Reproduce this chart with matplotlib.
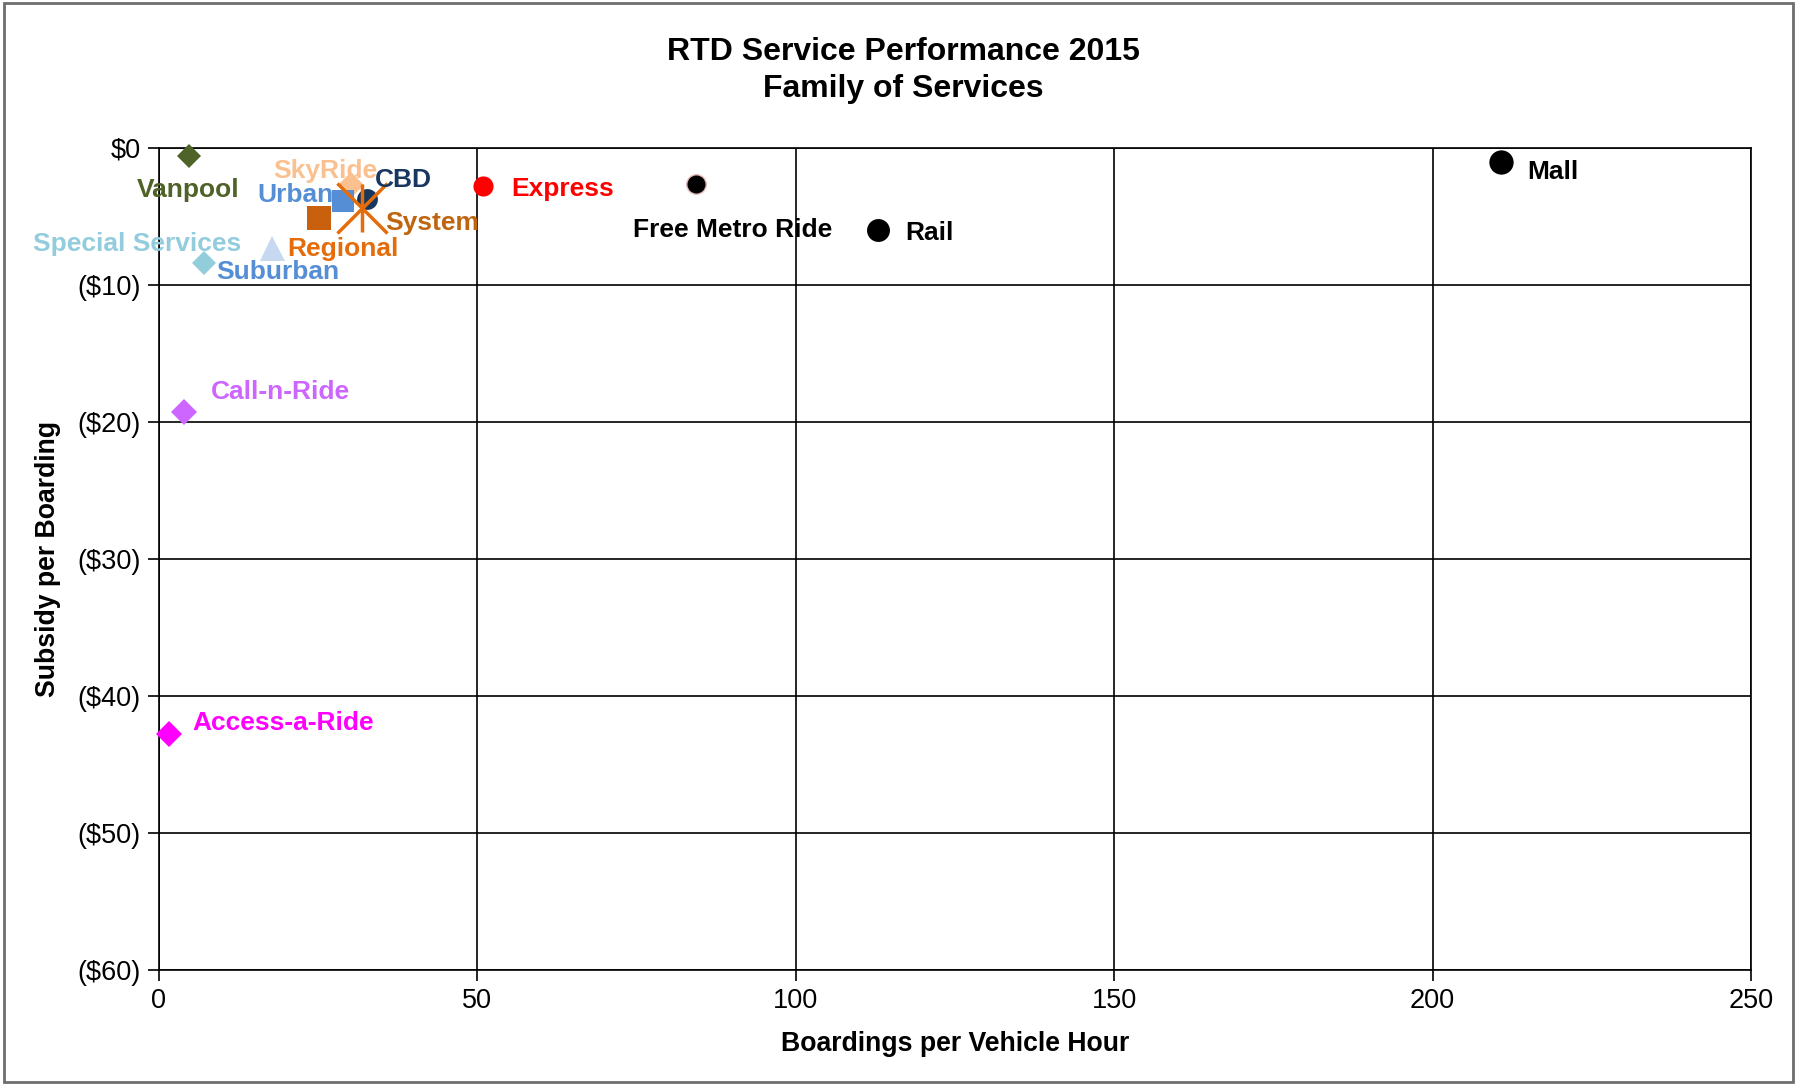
import matplotlib
matplotlib.use("Agg")
import matplotlib.pyplot as plt
from matplotlib.patches import Rectangle
from matplotlib.ticker import FuncFormatter

plt.rcParams['font.family'] = ['Liberation Sans', 'DejaVu Sans']

# ---- data ----
services = ["Vanpool", "SkyRide", "CBD", "Urban", "Regional", "System",
            "Special Services", "Suburban", "Express", "Free Metro Ride",
            "Rail", "Mall", "Call-n-Ride", "Access-a-Ride"]
boardings = [4.7, 30.2, 32.7, 28.9, 25.2, 31.8, 17.7, 7.1, 50.9, 84.3,
             112.9, 210.7, 4.0, 1.5]
subsidy = [-0.6, -2.7, -3.7, -3.9, -5.1, -4.4, -7.3, -8.4, -2.8, -2.6,
           -6.0, -1.0, -19.3, -42.8]

x_ticks = [0, 50, 100, 150, 200, 250]
y_ticks = [0, -10, -20, -30, -40, -50, -60]

# ---- styles ----
marker_style = {
    "Vanpool": dict(marker="D", color="#4F6228", ms=12.5),
    "SkyRide": dict(marker="D", color="#FAC090", ms=13),
    "CBD": dict(marker="o", color="#17375E", ms=15),
    "Urban": dict(marker="s", color="#558ED5", ms=16.5),
    "Regional": dict(marker="s", color="#C8600E", ms=17),
    "System": None,
    "Special Services": dict(marker="^", color="#C6D9F1", ms=18),
    "Suburban": dict(marker="D", color="#92CDDC", ms=12),
    "Express": dict(marker="o", color="#FF0000", ms=14.5),
    "Free Metro Ride": dict(marker="o", color="#000000", ms=14, mec="#E6B9B8", mew=1),
    "Rail": dict(marker="o", color="#000000", ms=16.5),
    "Mall": dict(marker="o", color="#000000", ms=17.5),
    "Call-n-Ride": dict(marker="D", color="#CC66FF", ms=13),
    "Access-a-Ride": dict(marker="D", color="#FF00FF", ms=13),
}
label_style = {
    "Vanpool": ("#4F6228", (-1, -34)),
    "SkyRide": ("#FAC090", (-26, 14)),
    "CBD": ("#17375E", (36, 19)),
    "Urban": ("#558ED5", (-48, 6)),
    "Regional": ("#E46C0A", (23, -31)),
    "System": ("#C0650F", (71, -15)),
    "Special Services": ("#93CDDD", (-135, 4)),
    "Suburban": ("#558ED5", (74, -9)),
    "Express": ("#FF0000", (79, -3)),
    "Free Metro Ride": ("#000000", (37, -46)),
    "Rail": ("#000000", (51, -3)),
    "Mall": ("#000000", (52, -10)),
    "Call-n-Ride": ("#CC66FF", (96, 20)),
    "Access-a-Ride": ("#FF00FF", (115, 11)),
}

fig = plt.figure(figsize=(17.97, 10.84), dpi=100)
ax = fig.add_axes([159 / 1797, 1 - 970 / 1084, (1751 - 159) / 1797, (970 - 148) / 1084])

ax.set_xlim(0, 250)
ax.set_ylim(-60, 0)
ax.set_xticks(x_ticks)
ax.set_yticks(y_ticks)
ax.yaxis.set_major_formatter(FuncFormatter(
    lambda v, p: "$0" if abs(v) < 1e-9 else f"(${abs(v):.0f})"))
ax.grid(True, color="black", linewidth=1.2)
ax.set_axisbelow(True)
for sp in ax.spines.values():
    sp.set_color("black")
    sp.set_linewidth(1.2)
ax.tick_params(axis="both", labelsize=19.5, length=8, width=1.2, direction="out", pad=5)

for name, xv, yv in zip(services, boardings, subsidy):
    st = marker_style[name]
    if st is None:
        ax.plot([xv], [yv], marker="x", ms=36, mew=2.5, color="#E46C0A",
                linestyle="none", zorder=5, clip_on=False)
        ax.plot([xv], [yv], marker="|", ms=34, mew=2.5, color="#E46C0A",
                linestyle="none", zorder=5, clip_on=False)
    else:
        ax.plot([xv], [yv], marker=st["marker"], ms=st["ms"],
                mfc=st["color"], mec=st.get("mec", st["color"]),
                mew=st.get("mew", 0), linestyle="none", zorder=4, clip_on=False)
    col, off = label_style[name]
    ax.annotate(name, (xv, yv), xytext=off, textcoords="offset pixels",
                ha="center", va="center", fontsize=19, fontweight="bold",
                color=col, zorder=6, annotation_clip=False)

ax.set_xlabel("Boardings per Vehicle Hour", fontsize=19.2, fontweight="bold", labelpad=12)
ax.set_ylabel("Subsidy per Boarding", fontsize=19.2, fontweight="bold", labelpad=12)

fig.text(903 / 1797, 1 - 52 / 1084, "RTD Service Performance 2015", ha="center",
         va="center", fontsize=23, fontweight="bold")
fig.text(903 / 1797, 1 - 89 / 1084, "Family of Services", ha="center",
         va="center", fontsize=23, fontweight="bold")

fig.patches.append(Rectangle((0.002, 0.002), 0.996, 0.995, transform=fig.transFigure,
                             fill=False, edgecolor="#6E6E6E", linewidth=2))

fig.savefig("out.png", dpi=100)
